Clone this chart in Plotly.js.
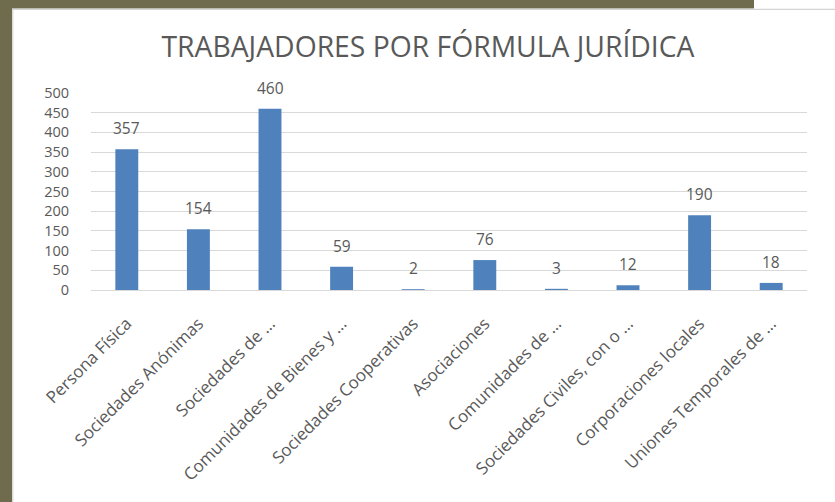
<!DOCTYPE html>
<html>
<head>
<meta charset="utf-8">
<script src="https://cdn.plot.ly/plotly-3.0.1.min.js"></script>
<style>
html,body{margin:0;padding:0;background:#fff;}
#chart{width:835px;height:502px;}
</style>
</head>
<body>
<div id="chart"></div>
<script>
const categories = [
  "Persona Física",
  "Sociedades Anónimas",
  "Sociedades de …",
  "Comunidades de Bienes y …",
  "Sociedades Cooperativas",
  "Asociaciones",
  "Comunidades de …",
  "Sociedades Civiles, con o …",
  "Corporaciones locales",
  "Uniones Temporales de …"
];
const workers = [357, 154, 460, 59, 2, 76, 3, 12, 190, 18];
const yTicks = [0, 50, 100, 150, 200, 250, 300, 350, 400, 450, 500];

const textColor = "#595959";
const fontFam = "'Open Sans', 'DejaVu Sans', sans-serif";

const trace = {
  type: "bar",
  x: categories,
  y: workers,
  marker: {color: "#4f81bd"},
  hoverinfo: "x+y"
};

const annotations = categories.map((c, i) => ({
  x: c, y: workers[i], xref: "x", yref: "y",
  text: String(workers[i]), showarrow: false,
  yanchor: "middle", yshift: 21,
  font: {family: fontFam, size: 15.5, color: textColor}
}));

// decorative frame (olive slide border) in paper coordinates
const L = 91, T = 93, W = 716, H = 197;
const px = v => (v - L) / W;
const py = v => (T + H - v) / H;
const shapes = [
  {type: "rect", xref: "paper", yref: "paper", x0: px(0), x1: px(12), y0: py(502), y1: py(0), fillcolor: "#6e6c4c", line: {width: 0}, layer: "above"},
  {type: "rect", xref: "paper", yref: "paper", x0: px(0), x1: px(754), y0: py(8.5), y1: py(0), fillcolor: "#6e6c4c", line: {width: 0}, layer: "above"},
  {type: "line", xref: "paper", yref: "paper", x0: px(12), x1: px(835), y0: py(9.3), y1: py(9.3), line: {color: "#d4d4d4", width: 1.2}},
  {type: "line", xref: "paper", yref: "paper", x0: px(12.8), x1: px(12.8), y0: py(502), y1: py(9.3), line: {color: "#d4d4d4", width: 1.2}}
];

const layout = {
  width: 835, height: 502,
  margin: {l: L, r: 835 - L - W, t: T, b: 502 - T - H},
  paper_bgcolor: "#ffffff",
  plot_bgcolor: "#ffffff",
  showlegend: false,
  bargap: 0.68,
  title: {
    text: "TRABAJADORES POR FÓRMULA JURÍDICA",
    x: 428 / 835, xref: "container", xanchor: "center",
    y: 1 - 47 / 502, yref: "container", yanchor: "middle",
    font: {family: fontFam, size: 28.3, color: textColor}
  },
  xaxis: {
    type: "category",
    tickangle: -45,
    tickfont: {family: fontFam, size: 17, color: textColor},
    showline: true, linecolor: "#d9d9d9", linewidth: 1,
    ticks: "", showgrid: false, zeroline: false,
    ticklabelstandoff: 16,
    automargin: false
  },
  yaxis: {
    range: [0, 500],
    tickvals: yTicks,
    ticktext: yTicks.map(String),
    tickfont: {family: fontFam, size: 14.5, color: textColor},
    showgrid: true, gridcolor: "#d9d9d9", gridwidth: 1,
    zeroline: false, showline: false, ticks: "",
    ticklabelstandoff: 21,
    automargin: false
  },
  annotations: annotations,
  shapes: shapes
};

Plotly.newPlot("chart", [trace], layout, {displayModeBar: false, staticPlot: true});
</script>
</body>
</html>
